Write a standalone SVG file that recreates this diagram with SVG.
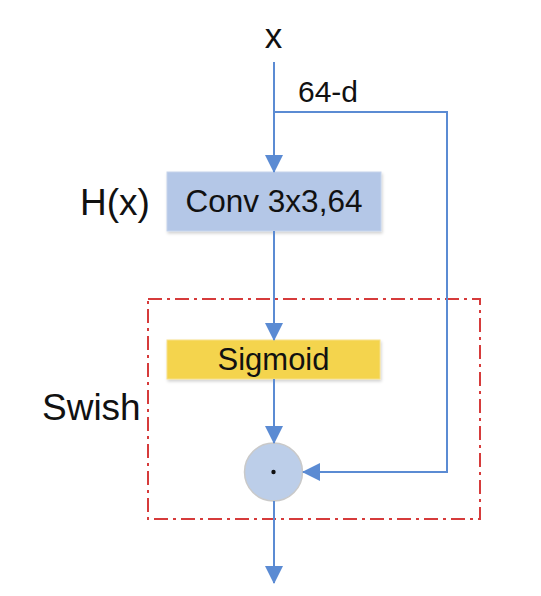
<svg xmlns="http://www.w3.org/2000/svg" width="541" height="596" viewBox="0 0 541 596">
<defs>
<marker id="ah" markerWidth="18" markerHeight="18" viewBox="0 0 18 18" refX="17" refY="9" orient="auto" markerUnits="userSpaceOnUse">
<path d="M0,0 L18,9 L0,18 Z" fill="#5b8bd3"/>
</marker>
<filter id="sh" x="-10%" y="-20%" width="130%" height="150%">
<feDropShadow dx="1" dy="2" stdDeviation="1.5" flood-color="#000" flood-opacity="0.18"/>
</filter>
</defs>
<style>
text{font-family:"Liberation Sans",Arial,sans-serif;fill:#111;}
.ln{stroke:#5b8bd3;stroke-width:2;fill:none;}
.arr{marker-end:url(#ah);}
</style>
<rect width="541" height="596" fill="#fff"/>
<g id="swish-box">
<rect x="148" y="299" width="332" height="220" fill="none" stroke="#d63b3b" stroke-width="2" stroke-dasharray="14 5 3 5"/>
<text x="42" y="420" font-size="37">Swish</text>
</g>
<g id="input">
<text x="273.5" y="48" font-size="35" text-anchor="middle">x</text>
</g>
<g id="label-64d">
<text x="298" y="102" font-size="30">64-d</text>
</g>
<g id="label-hx">
<text x="80" y="215" font-size="37">H(x)</text>
</g>
<g id="conv">
<rect x="167" y="172" width="214" height="59" fill="#b4c7e7" stroke="#c6d4ec" stroke-width="1" filter="url(#sh)"/>
<text x="274" y="212" font-size="31.5" text-anchor="middle">Conv 3x3,64</text>
</g>
<g id="sigmoid">
<rect x="167" y="340" width="213" height="39" fill="#f4d44d" stroke="#f7e08a" stroke-width="1" filter="url(#sh)"/>
<text x="273.5" y="370" font-size="31" text-anchor="middle">Sigmoid</text>
</g>
<g id="multiply">
<circle cx="273.5" cy="472" r="29" fill="#bccee9" stroke="#c9c9c9" stroke-width="1.5"/>
<circle cx="273.5" cy="472" r="2.2" fill="#111"/>
</g>
<g id="connectors">
<line class="ln arr" x1="274" y1="62" x2="274" y2="172"/>
<polyline class="ln arr" points="274,112 447,112 447,472 303,472"/>
<line class="ln arr" x1="274" y1="231" x2="274" y2="340"/>
<line class="ln arr" x1="274" y1="379" x2="274" y2="443"/>
<line class="ln arr" x1="274" y1="501" x2="274" y2="583"/>
</g>
</svg>
